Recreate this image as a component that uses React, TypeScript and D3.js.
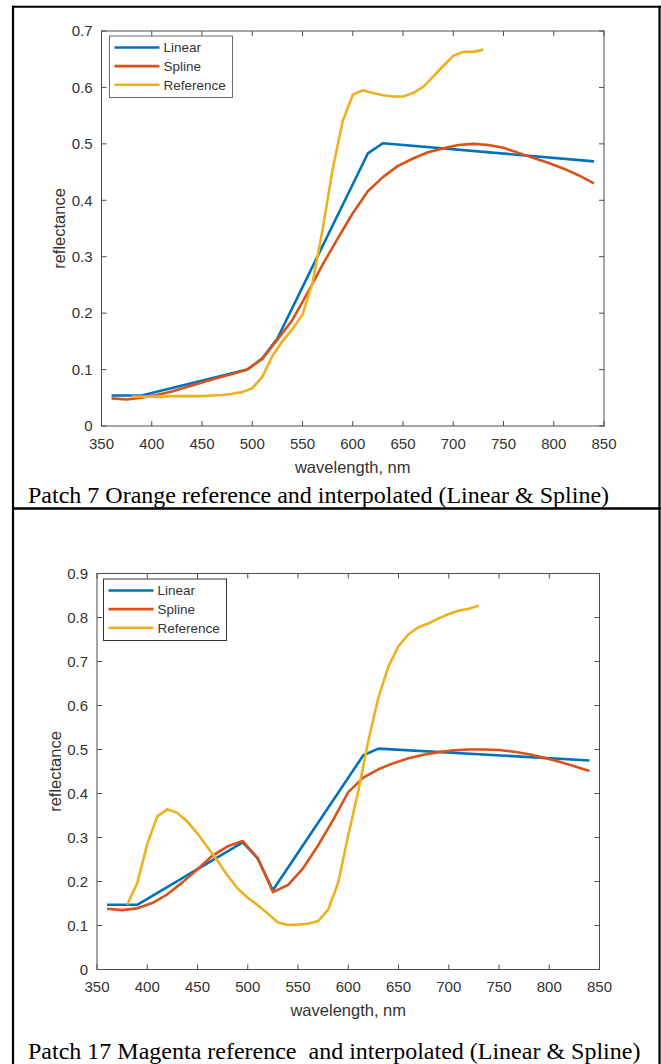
import * as d3 from "d3";
import React from "react";
import { useEffect, useRef } from "react";

// wavelength grids (nm)
const wavelengthTicks = [350, 400, 450, 500, 550, 600, 650, 700, 750, 800, 850];
const linearNm = [360, 390, 495, 510, 525, 615, 630, 840];
const splineNm = [360, 375, 390, 405, 420, 435, 450, 465, 480, 495, 510, 525, 540, 555, 570, 585, 600,
    615, 630, 645, 660, 675, 690, 705, 720, 735, 750, 765, 780, 795, 810, 825, 840];
const referenceNm = [380, 390, 400, 410, 420, 430, 440, 450, 460, 470, 480, 490, 500, 510, 520, 530, 540,
    550, 560, 570, 580, 590, 600, 610, 620, 630, 640, 650, 660, 670, 680, 690, 700, 710, 720, 730];

// Patch 7 Orange
const orangeTicks = [0, 0.1, 0.2, 0.3, 0.4, 0.5, 0.6, 0.7];
const orangeLinear = [0.054, 0.054, 0.100, 0.120, 0.155, 0.483, 0.501, 0.469];
const orangeSpline = [0.049, 0.047, 0.050, 0.055, 0.061, 0.069, 0.077, 0.085, 0.092, 0.100, 0.119, 0.153,
    0.188, 0.236, 0.286, 0.332, 0.377, 0.416, 0.441, 0.461, 0.474, 0.485, 0.492, 0.498, 0.500, 0.498,
    0.493, 0.484, 0.475, 0.466, 0.456, 0.444, 0.430];
const orangeReference = [0.052, 0.052, 0.052, 0.052, 0.053, 0.053, 0.053, 0.053, 0.054, 0.055, 0.057,
    0.060, 0.067, 0.087, 0.124, 0.150, 0.172, 0.197, 0.254, 0.348, 0.455, 0.540, 0.587, 0.595, 0.590,
    0.586, 0.584, 0.584, 0.590, 0.601, 0.619, 0.638, 0.656, 0.663, 0.663, 0.667];

// Patch 17 Magenta
const magentaTicks = [0, 0.1, 0.2, 0.3, 0.4, 0.5, 0.6, 0.7, 0.8, 0.9];
const magentaLinear = [0.147, 0.147, 0.289, 0.252, 0.180, 0.487, 0.502, 0.475];
const magentaSpline = [0.138, 0.135, 0.139, 0.151, 0.171, 0.198, 0.228, 0.259, 0.280, 0.292, 0.253, 0.176,
    0.192, 0.230, 0.282, 0.340, 0.403, 0.436, 0.455, 0.469, 0.480, 0.488, 0.494, 0.498, 0.500, 0.500,
    0.499, 0.495, 0.489, 0.481, 0.472, 0.462, 0.451];
const magentaReference = [0.147, 0.196, 0.285, 0.348, 0.364, 0.356, 0.336, 0.309, 0.278, 0.247, 0.213,
    0.184, 0.163, 0.146, 0.127, 0.107, 0.101, 0.102, 0.104, 0.110, 0.136, 0.197, 0.305, 0.405, 0.520,
    0.618, 0.689, 0.735, 0.762, 0.778, 0.787, 0.798, 0.808, 0.816, 0.820, 0.827];

const seriesNames = ["Linear", "Spline", "Reference"];
const colors = { linear: "#0072BD", spline: "#D95319", reference: "#EDB120", ink: "#333333" };
const sans = "'Liberation Sans', Arial, sans-serif";
const serif = "'Liberation Serif', 'Times New Roman', serif";

interface PanelSpec {
    left: number, right: number, top: number, bottom: number,
    yTicks: number[],
    linear: number[], spline: number[], reference: number[],
    legend: { x0: number, y0: number, x1: number, y1: number, edge: string },
    caption: string, captionY: number
}

const panels: PanelSpec[] = [
    {
        left: 101.5, right: 604, top: 31, bottom: 426, yTicks: orangeTicks,
        linear: orangeLinear, spline: orangeSpline, reference: orangeReference,
        legend: { x0: 109.5, y0: 36, x1: 232.5, y1: 97.5, edge: "#6a6a6a" },
        caption: "Patch 7 Orange reference and interpolated (Linear & Spline)", captionY: 503
    },
    {
        left: 97, right: 599.5, top: 573.5, bottom: 969.5, yTicks: magentaTicks,
        linear: magentaLinear, spline: magentaSpline, reference: magentaReference,
        legend: { x0: 103.5, y0: 579, x1: 226.5, y1: 640.5, edge: "#333333" },
        caption: "Patch 17 Magenta reference  and interpolated (Linear & Spline)", captionY: 1059
    }
];

const drawPanel = (root: d3.Selection<SVGGElement, unknown, null, undefined>, p: PanelSpec) => {
    const x = d3.scaleLinear().domain([350, 850]).range([p.left, p.right]);
    const y = d3.scaleLinear().domain([0, p.yTicks[p.yTicks.length - 1]]).range([p.bottom, p.top]);
    const g = root.append("g");
    const tickLen = 5;

    // box
    g.append("rect")
        .attr("x", p.left).attr("y", p.top)
        .attr("width", p.right - p.left).attr("height", p.bottom - p.top)
        .attr("fill", "white").attr("stroke", "#4d4d4d").attr("stroke-width", 1);

    // x ticks (bottom + top) and labels
    wavelengthTicks.forEach(t => {
        g.append("line").attr("x1", x(t)).attr("x2", x(t)).attr("y1", p.bottom).attr("y2", p.bottom - tickLen)
            .attr("stroke", "#4d4d4d");
        g.append("line").attr("x1", x(t)).attr("x2", x(t)).attr("y1", p.top).attr("y2", p.top + tickLen)
            .attr("stroke", "#4d4d4d");
        g.append("text").attr("x", x(t)).attr("y", p.bottom + 22.5)
            .attr("text-anchor", "middle").attr("font-family", sans).attr("font-size", 15)
            .attr("fill", colors.ink).text(t);
    });

    // y ticks (left + right) and labels
    p.yTicks.forEach(t => {
        g.append("line").attr("x1", p.left).attr("x2", p.left + tickLen).attr("y1", y(t)).attr("y2", y(t))
            .attr("stroke", "#4d4d4d");
        g.append("line").attr("x1", p.right).attr("x2", p.right - tickLen).attr("y1", y(t)).attr("y2", y(t))
            .attr("stroke", "#4d4d4d");
        g.append("text").attr("x", p.left - 9).attr("y", y(t) + 5.3)
            .attr("text-anchor", "end").attr("font-family", sans).attr("font-size", 15)
            .attr("fill", colors.ink).text(String(+t.toFixed(1)));
    });

    // axis labels
    g.append("text").attr("x", (p.left + p.right) / 2).attr("y", p.bottom + 46.5)
        .attr("text-anchor", "middle").attr("font-family", sans).attr("font-size", 16.5)
        .attr("fill", colors.ink).text("wavelength, nm");
    g.append("text")
        .attr("transform", `translate(${p.left - 36.5},${(p.top + p.bottom) / 2}) rotate(-90)`)
        .attr("text-anchor", "middle").attr("font-family", sans).attr("font-size", 16.5)
        .attr("fill", colors.ink).text("reflectance");

    // series
    const line = d3.line<[number, number]>().x(d => x(d[0])).y(d => y(d[1]));
    const series: [number[], number[], string][] = [
        [linearNm, p.linear, colors.linear],
        [splineNm, p.spline, colors.spline],
        [referenceNm, p.reference, colors.reference]
    ];
    series.forEach(([nm, vals, color]) => {
        g.append("path")
            .attr("d", line(nm.map((w, i) => [w, vals[i]] as [number, number])))
            .attr("fill", "none").attr("stroke", color).attr("stroke-width", 2.6)
            .attr("stroke-linejoin", "round");
    });

    // legend
    const L = p.legend;
    g.append("rect").attr("x", L.x0).attr("y", L.y0).attr("width", L.x1 - L.x0).attr("height", L.y1 - L.y0)
        .attr("fill", "white").attr("stroke", L.edge).attr("stroke-width", 1);
    const rowGap = (L.y1 - L.y0) / 3.3;
    seriesNames.forEach((name, i) => {
        const ry = L.y0 + 11.5 + i * rowGap;
        g.append("line").attr("x1", L.x0 + 5).attr("x2", L.x0 + 50).attr("y1", ry).attr("y2", ry)
            .attr("stroke", series[i][2]).attr("stroke-width", 2.6);
        g.append("text").attr("x", L.x0 + 54).attr("y", ry + 4.8)
            .attr("font-family", sans).attr("font-size", 13.5).attr("fill", colors.ink).text(name);
    });

    // caption
    g.append("text").attr("x", 28).attr("y", p.captionY)
        .attr("font-family", serif).attr("font-size", 24).attr("fill", "black")
        .style("white-space", "pre").text(p.caption);
};

const App = () => {
    const area = useRef<SVGSVGElement>(null);

    useEffect(() => {
        const svg = d3.select(area.current);
        svg.selectAll("*").remove();
        const root = svg.append("g");

        root.append("rect").attr("width", 661).attr("height", 1064).attr("fill", "white");

        // page frame
        const frame = root.append("g").attr("stroke", "black").attr("fill", "none");
        frame.append("line").attr("x1", 13).attr("x2", 13).attr("y1", 5.7).attr("y2", 1064).attr("stroke-width", 2.2);
        frame.append("line").attr("x1", 659.5).attr("x2", 659.5).attr("y1", 5.7).attr("y2", 1064).attr("stroke-width", 2.2);
        frame.append("line").attr("x1", 12).attr("x2", 661).attr("y1", 6.7).attr("y2", 6.7).attr("stroke-width", 2);
        frame.append("line").attr("x1", 12).attr("x2", 661).attr("y1", 508.5).attr("y2", 508.5).attr("stroke-width", 2.5);

        panels.forEach(p => drawPanel(root, p));
    }, []);

    return <svg ref={area} width={661} height={1064} style={{ position: "absolute", left: 0, top: 0 }} />;
};

export default App;
